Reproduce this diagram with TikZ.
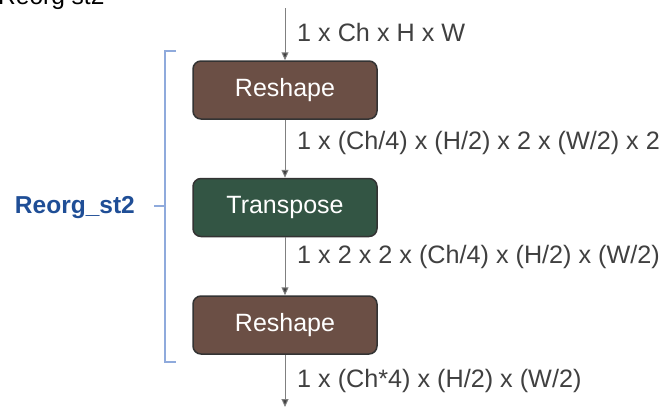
\documentclass[tikz,border=0pt]{standalone}
\usepackage{fontspec}
\setmainfont{Liberation Sans}
\usetikzlibrary{arrows.meta, positioning}

\definecolor{boxbrown}{HTML}{6B4F45}
\definecolor{boxgreen}{HTML}{335544}
\definecolor{boxedge}{HTML}{333333}
\definecolor{flowgray}{HTML}{808080}
\definecolor{textgray}{HTML}{404040}
\definecolor{bracketblue}{HTML}{8FAADC}
\definecolor{labelblue}{HTML}{1F4E96}

\tikzset{
  opbox/.style={draw=boxedge, line width=1.5pt, rounded corners=8pt,
    minimum width=184pt, minimum height=58pt, text=white,
    font=\fontsize{25}{30}\selectfont},
  dimlabel/.style={anchor=west, inner sep=0pt, text=textgray,
    font=\fontsize{25.2}{30}\selectfont},
  flow/.style={draw=flowgray, line width=1pt,
    -{Triangle[length=8pt, width=7pt, fill=textgray]}}
}

\begin{document}
\begin{tikzpicture}[x=1pt, y=-1pt, >=Stealth]

\useasboundingbox (0,0) rectangle (666,408);

% Title (cut at the top)
\node[anchor=base west, inner sep=0pt, font=\fontsize{24.5}{29}\selectfont] (title) at (-2,4) {Reorg st2};

% Operations
\node[opbox, fill=boxbrown] (reshapeA) at (285,90) {Reshape};
\node[opbox, fill=boxgreen, below=58pt of reshapeA] (transpose) {Transpose};
\node[opbox, fill=boxbrown, below=58pt of transpose] (reshapeB) {Reshape};

% In and out
\coordinate (input) at (285,8);
\coordinate (output) at (285,407);

\draw[flow] (input) -- (reshapeA.north);
\draw[flow] (reshapeA.south) -- (transpose.north);
\draw[flow] (transpose.south) -- (reshapeB.north);
\draw[flow] (reshapeB.south) -- (output);

% Tensor shapes
\node[dimlabel] (dimA) at (297,32) {1 x Ch x H x W};
\node[dimlabel] (dimB) at (297,143) {1 x (Ch/4) x (H/2) x 2 x (W/2) x 2};
\node[dimlabel] (dimC) at (297,257) {1 x 2 x 2 x (Ch/4) x (H/2) x (W/2)};
\node[dimlabel] (dimD) at (297,381) {1 x (Ch*4) x (H/2) x (W/2)};

% Group bracket
\draw[bracketblue, line width=1.5pt] (176,51) -- (165,51) -- (165,362) -- (176,362);
\coordinate (tick) at (165,206);
\draw[bracketblue, line width=1.5pt] (tick) -- ++(-11,0);

\node[anchor=east, inner sep=0pt, text=labelblue,
  font=\bfseries\fontsize{24.5}{29}\selectfont] (group) at (135,208) {Reorg\_st2};

\end{tikzpicture}
\end{document}
